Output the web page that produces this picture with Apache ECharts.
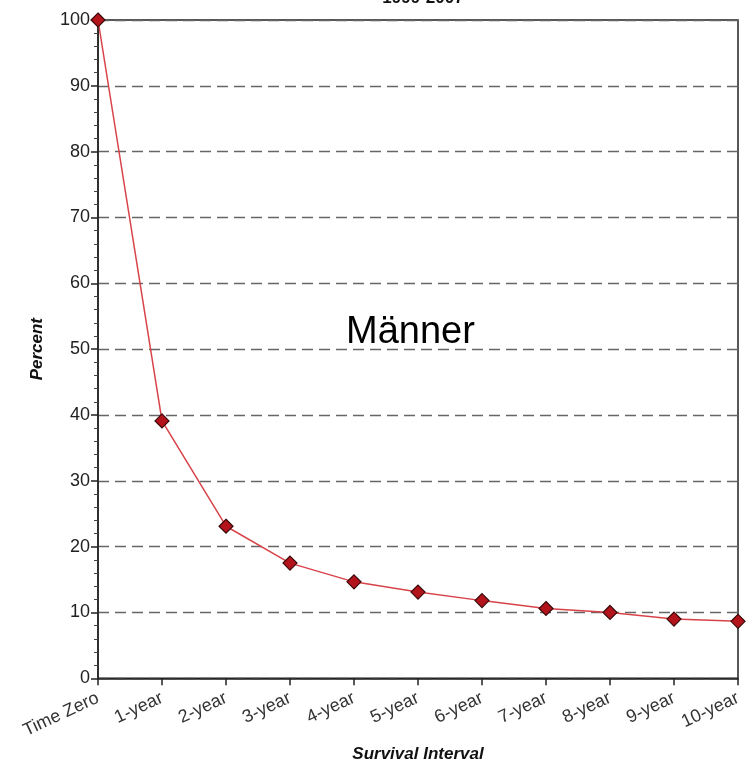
<!DOCTYPE html>
<html><head><meta charset="utf-8">
<script src="https://cdn.jsdelivr.net/npm/echarts@6/dist/echarts.min.js"></script>
<style>html,body{margin:0;padding:0;background:#fff}#c{width:746px;height:768px}</style>
</head><body><div id="c"></div>
<script>
const categories = ['Time Zero','1-year','2-year','3-year','4-year','5-year','6-year','7-year','8-year','9-year','10-year'];
const survival = [100, 39.1, 23.1, 17.5, 14.65, 13.1, 11.8, 10.6, 10.0, 9.0, 8.65];
const yTicks = [0,10,20,30,40,50,60,70,80,90,100];
const chart = echarts.init(document.getElementById('c'));
const font = 'Liberation Sans, Arial, sans-serif';
chart.setOption({
  animation: false,
  title: {
    text: '1999-2007', left: 418, top: -15, textAlign: 'center',
    textStyle: {fontFamily: font, fontSize: 17, fontWeight: 'bold', color: '#111'}
  },
  grid: {left: 98, right: 8, top: 20, bottom: 86, show: true, borderColor: '#222', borderWidth: 1.5, backgroundColor: 'transparent'},
  xAxis: {
    type: 'category', data: categories, boundaryGap: false,
    axisLine: {lineStyle: {color: '#222', width: 1.5}},
    axisTick: {show: true, length: 7, lineStyle: {color: '#222', width: 1.5}},
    axisLabel: {rotate: 25, fontFamily: font, fontSize: 18, color: '#333', margin: 19},
    name: 'Survival Interval', nameLocation: 'middle', nameGap: 66,
    nameTextStyle: {fontFamily: font, fontSize: 17, fontWeight: 'bold', fontStyle: 'italic', color: '#111'},
    splitLine: {show: false}
  },
  yAxis: {
    type: 'value', min: 0, max: 100, interval: 10,
    axisLine: {show: true, lineStyle: {color: '#222', width: 1.5}},
    axisTick: {show: true, length: 7, lineStyle: {color: '#222', width: 1.5}},
    minorTick: {show: true, splitNumber: 5, length: 4, lineStyle: {color: '#444'}},
    axisLabel: {fontFamily: font, fontSize: 18, color: '#222', margin: 8,
      formatter: v => yTicks.includes(v) ? String(v) : ''},
    splitLine: {show: true, lineStyle: {color: '#666', type: [11, 6], width: 1.3}},
    name: 'Percent', nameLocation: 'middle', nameGap: 52, nameRotate: 90,
    nameTextStyle: {fontFamily: font, fontSize: 17, fontWeight: 'bold', fontStyle: 'italic', color: '#111'}
  },
  graphic: [{
    type: 'text', left: 346, top: 314,
    style: {text: 'Männer', fontFamily: font, fontSize: 38, fill: '#000'}
  }],
  series: [{
    type: 'line', data: survival, clip: false,
    symbol: 'diamond', symbolSize: 14,
    lineStyle: {color: '#d8434a', width: 1.5},
    itemStyle: {color: '#b3141c', borderColor: '#3a0a0a', borderWidth: 1.2}
  }]
});
</script></body></html>
